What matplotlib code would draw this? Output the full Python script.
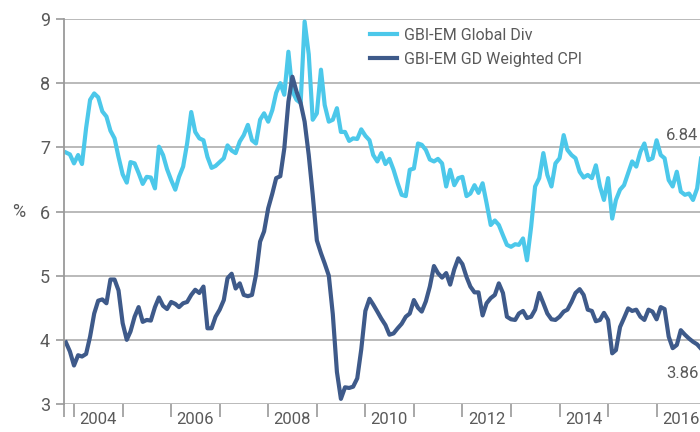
import matplotlib
matplotlib.use("Agg")
import matplotlib.pyplot as plt
import matplotlib.dates as mdates
import matplotlib.transforms as mtransforms
import numpy as np
import pandas as pd

# monthly values, Nov 2003 .. Dec 2016
div_2003 = [6.92, 6.89]
div_2004 = [6.75, 6.88, 6.74, 7.30, 7.74, 7.84, 7.78, 7.56, 7.48, 7.26, 7.14, 6.85]
div_2005 = [6.58, 6.45, 6.77, 6.75, 6.60, 6.43, 6.54, 6.53, 6.36, 7.01, 6.88, 6.66]
div_2006 = [6.49, 6.34, 6.54, 6.70, 7.06, 7.55, 7.24, 7.14, 7.11, 6.85, 6.68, 6.71]
div_2007 = [6.77, 6.83, 7.03, 6.95, 6.91, 7.09, 7.19, 7.35, 7.11, 7.06, 7.43, 7.53]
div_2008 = [7.40, 7.58, 7.85, 8.00, 7.82, 8.49, 7.87, 7.74, 7.69, 8.96, 8.45, 7.43]
div_2009 = [7.53, 8.21, 7.66, 7.40, 7.43, 7.61, 7.24, 7.24, 7.10, 7.14, 7.13, 7.28]
div_2010 = [7.18, 7.11, 6.88, 6.78, 6.91, 6.74, 6.82, 6.65, 6.44, 6.26, 6.24, 6.65]
div_2011 = [6.67, 7.06, 7.04, 6.96, 6.81, 6.78, 6.82, 6.75, 6.39, 6.65, 6.41, 6.52]
div_2012 = [6.54, 6.24, 6.28, 6.41, 6.29, 6.44, 6.13, 5.79, 5.86, 5.79, 5.63, 5.48]
div_2013 = [5.45, 5.49, 5.48, 5.58, 5.24, 5.76, 6.39, 6.52, 6.91, 6.57, 6.39, 6.75]
div_2014 = [6.83, 7.19, 6.96, 6.88, 6.83, 6.62, 6.53, 6.57, 6.52, 6.72, 6.39, 6.18]
div_2015 = [6.52, 5.89, 6.18, 6.34, 6.41, 6.60, 6.78, 6.70, 6.93, 7.06, 6.80, 6.83]
div_2016 = [7.11, 6.88, 6.83, 6.49, 6.39, 6.62, 6.31, 6.26, 6.28, 6.18, 6.36, 6.84]

cpi_2003 = [3.96, 3.82]
cpi_2004 = [3.60, 3.76, 3.74, 3.78, 4.05, 4.41, 4.61, 4.63, 4.57, 4.94, 4.94, 4.77]
cpi_2005 = [4.26, 4.00, 4.13, 4.36, 4.51, 4.28, 4.31, 4.30, 4.51, 4.66, 4.53, 4.48]
cpi_2006 = [4.59, 4.56, 4.51, 4.57, 4.59, 4.70, 4.78, 4.73, 4.83, 4.18, 4.18, 4.36]
cpi_2007 = [4.47, 4.62, 4.96, 5.03, 4.80, 4.88, 4.70, 4.68, 4.70, 5.01, 5.53, 5.69]
cpi_2008 = [6.05, 6.28, 6.52, 6.55, 6.98, 7.71, 8.10, 7.87, 7.69, 7.40, 6.88, 6.26]
cpi_2009 = [5.55, 5.35, 5.19, 5.00, 4.40, 3.50, 3.08, 3.26, 3.25, 3.27, 3.40, 3.85]
cpi_2010 = [4.45, 4.64, 4.55, 4.44, 4.33, 4.23, 4.08, 4.10, 4.18, 4.25, 4.36, 4.41]
cpi_2011 = [4.62, 4.50, 4.44, 4.60, 4.83, 5.15, 5.04, 4.97, 5.04, 4.86, 5.10, 5.27]
cpi_2012 = [5.18, 4.98, 4.83, 4.74, 4.74, 4.38, 4.57, 4.65, 4.70, 4.88, 4.73, 4.36]
cpi_2013 = [4.32, 4.31, 4.41, 4.45, 4.34, 4.36, 4.47, 4.73, 4.57, 4.41, 4.32, 4.31]
cpi_2014 = [4.36, 4.44, 4.47, 4.59, 4.73, 4.79, 4.70, 4.47, 4.45, 4.29, 4.31, 4.42]
cpi_2015 = [4.31, 3.79, 3.84, 4.20, 4.34, 4.49, 4.45, 4.47, 4.36, 4.31, 4.47, 4.44]
cpi_2016 = [4.32, 4.51, 4.48, 4.05, 3.87, 3.92, 4.15, 4.08, 4.02, 3.97, 3.93, 3.86]

labels = ["GBI-EM Global Div", "GBI-EM GD Weighted CPI"]
year_labels = [2004, 2006, 2008, 2010, 2012, 2014, 2016]

div = (div_2003 + div_2004 + div_2005 + div_2006 + div_2007 + div_2008 + div_2009
       + div_2010 + div_2011 + div_2012 + div_2013 + div_2014 + div_2015 + div_2016)
cpi = (cpi_2003 + cpi_2004 + cpi_2005 + cpi_2006 + cpi_2007 + cpi_2008 + cpi_2009
       + cpi_2010 + cpi_2011 + cpi_2012 + cpi_2013 + cpi_2014 + cpi_2015 + cpi_2016)
dates = pd.date_range("2003-11-01", periods=len(div), freq="MS")

plt.rcParams['font.family'] = ['Roboto', 'DejaVu Sans']
grey_txt = "#5a5a5a"
grey_ln = "#b4b4b4"
c_div = "#4cc8ea"
c_cpi = "#3e5a8a"

fig = plt.figure(figsize=(7, 4.32), dpi=100)
# axes run a bit past the right edge, like the cropped original
ax = fig.add_axes([64 / 700, 28 / 432, 656 / 700, 385 / 432])

ax.plot(dates, div, color=c_div, lw=3, label=labels[0], solid_joinstyle='round')
ax.plot(dates, cpi, color=c_cpi, lw=3, label=labels[1], solid_joinstyle='round')

jan04 = mdates.date2num(pd.Timestamp("2004-01-01"))
px_day = 48.55 / 365.25
ax.set_xlim(jan04 - 10 / px_day, jan04 + (720 - 74) / px_day)
ax.set_ylim(3, 9)
ax.set_yticks(range(3, 10))

for s in ['top', 'right', 'bottom']:
    ax.spines[s].set_visible(False)
ax.spines['left'].set_color("#9a9a9a")
ax.spines['left'].set_linewidth(1.3)
ax.grid(axis='y', color=grey_ln, lw=1.3)
ax.set_axisbelow(True)

major = [ax.get_xlim()[0]] + [mdates.date2num(pd.Timestamp(f"{y}-01-01")) for y in range(2004, 2018)]
ax.set_xticks(major)
ax.set_xticklabels([])
ax.set_xticks([mdates.date2num(pd.Timestamp(f"{y}-07-01")) for y in year_labels], minor=True)
ax.set_xticklabels([str(y) for y in year_labels], minor=True)
ax.tick_params(axis='x', which='major', length=9, width=1.2, color="#9a9a9a")
ax.tick_params(axis='x', which='minor', length=0, pad=6, labelsize=12, labelcolor=grey_txt)
ax.tick_params(axis='y', length=6, width=1.2, color="#9a9a9a", pad=4, labelsize=13, labelcolor=grey_txt)

trans = mtransforms.blended_transform_factory(ax.transAxes, ax.transData)
ax.text(-0.069, 6, "%", transform=trans, ha='center', va='center', fontsize=13, color=grey_txt)

# end-of-series values, kept just inside the right edge
ax.annotate(f"{div[-1]:.2f}", (dates[-1], div[-1]), xytext=(-2, 16), textcoords='offset points',
            ha='right', va='center', fontsize=12, color=grey_txt)
ax.annotate(f"{cpi[-1]:.2f}", (dates[-1], cpi[-1]), xytext=(-2, -18), textcoords='offset points',
            ha='right', va='center', fontsize=12, color=grey_txt)

ax.legend(loc='upper left', bbox_to_anchor=(370 / 700, 1 - 28 / 432), bbox_transform=fig.transFigure,
          frameon=False, fontsize=11.5, handlelength=1.7, handletextpad=0.45, labelspacing=0.55,
          labelcolor=grey_txt, borderpad=0, borderaxespad=0)

fig.savefig("out.png", dpi=100)
